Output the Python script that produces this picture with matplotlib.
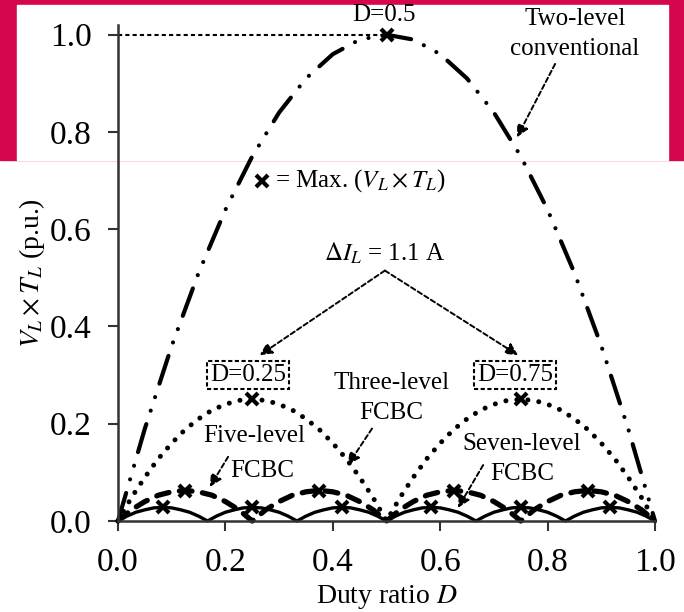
import numpy as np
import matplotlib
matplotlib.use("Agg")
import matplotlib.pyplot as plt
from matplotlib.patches import Rectangle

plt.rcParams["font.family"] = ["Liberation Serif", "DejaVu Serif"]
plt.rcParams["mathtext.fontset"] = "stix"

# sample points along the duty ratio axis
d_coarse = np.round(np.linspace(0, 1, 21), 3)
d_fine = np.round(np.linspace(0, 1, 41), 3)
d_seven = np.round(np.linspace(0, 1, 61), 4)

# V_L x T_L (p.u.)
two_level = [0, 0.19, 0.36, 0.51, 0.64, 0.75, 0.84, 0.91, 0.96, 0.99, 1.0,
             0.99, 0.96, 0.91, 0.84, 0.75, 0.64, 0.51, 0.36, 0.19, 0]
three_level = [0, 0.048, 0.09, 0.128, 0.16, 0.188, 0.21, 0.228, 0.24, 0.248, 0.25,
               0.248, 0.24, 0.228, 0.21, 0.188, 0.16, 0.128, 0.09, 0.048, 0,
               0.048, 0.09, 0.128, 0.16, 0.188, 0.21, 0.228, 0.24, 0.248, 0.25,
               0.248, 0.24, 0.228, 0.21, 0.188, 0.16, 0.128, 0.09, 0.048, 0]
five_level = [0, 0.023, 0.04, 0.053, 0.06, 0.063, 0.06, 0.053, 0.04, 0.023,
              0, 0.023, 0.04, 0.053, 0.06, 0.063, 0.06, 0.053, 0.04, 0.023,
              0, 0.023, 0.04, 0.053, 0.06, 0.063, 0.06, 0.053, 0.04, 0.023,
              0, 0.023, 0.04, 0.053, 0.06, 0.063, 0.06, 0.053, 0.04, 0.023, 0]
seven_level = [0, 0.010, 0.018, 0.023, 0.027, 0.028, 0.027, 0.023, 0.018, 0.010,
               0, 0.010, 0.018, 0.023, 0.027, 0.028, 0.027, 0.023, 0.018, 0.010,
               0, 0.010, 0.018, 0.023, 0.027, 0.028, 0.027, 0.023, 0.018, 0.010,
               0, 0.010, 0.018, 0.023, 0.027, 0.028, 0.027, 0.023, 0.018, 0.010,
               0, 0.010, 0.018, 0.023, 0.027, 0.028, 0.027, 0.023, 0.018, 0.010,
               0, 0.010, 0.018, 0.023, 0.027, 0.028, 0.027, 0.023, 0.018, 0.010, 0]

# maxima marked with x
max_two_d, max_two_v = [0.5], [1.0]
max_three_d, max_three_v = [0.25, 0.75], [0.25, 0.25]
max_five_d = [0.125, 0.375, 0.625, 0.875]
max_five_v = [0.0625] * 4
max_seven_d = [0.083, 0.25, 0.417, 0.583, 0.75, 0.917]
max_seven_v = [0.028] * 6

ticks = [0.0, 0.2, 0.4, 0.6, 0.8, 1.0]
tick_labels = ["0.0", "0.2", "0.4", "0.6", "0.8", "1.0"]

crimson = "#D6064E"

fig = plt.figure(figsize=(6.84, 6.12), dpi=100)
fig.patches.append(Rectangle((0, 1 - 160 / 612), 1, 160 / 612, transform=fig.transFigure,
                             color=crimson, zorder=-10))
fig.patches.append(Rectangle((17 / 684, 1 - 160 / 612), 651 / 684, 155 / 612,
                             transform=fig.transFigure, color="white", zorder=-9))

ax = fig.add_axes([118 / 684, 1 - 521 / 612, 537 / 684, 496 / 612])
ax.patch.set_alpha(0)

ax.plot(d_coarse, two_level, color="black", lw=3.0, dash_capstyle="round",
        linestyle=(0, (7.0, 3.4, 0.01, 3.4, 0.01, 3.4)), clip_on=False)
ax.plot(d_fine, three_level, color="black", lw=3.6, dash_capstyle="round",
        linestyle=(0, (0.01, 2.2)), clip_on=False)
ax.plot(d_fine, five_level, color="black", lw=3.8, dash_capstyle="round",
        linestyle=(0, (2.4, 2.0)), clip_on=False)
ax.plot(d_seven, seven_level, color="black", lw=2.4, clip_on=False)

mk = dict(marker="x", color="black", ms=9, mew=3, ls="none", zorder=5, clip_on=False)
ax.plot(max_two_d, max_two_v, **mk)
ax.plot(max_three_d, max_three_v, **mk)
ax.plot(max_five_d, max_five_v, **mk)
ax.plot(max_seven_d, max_seven_v, **mk)

# dotted guide to the two-level maximum
ax.plot([0, max_two_d[0]], [max_two_v[0], max_two_v[0]], color="black", lw=1.5,
        linestyle=(0, (2, 1.5)))

ax.set_xlim(0, 1)
ax.set_ylim(0, 1.02)
ax.set_xticks(ticks)
ax.set_xticklabels(tick_labels)
ax.set_yticks(ticks)
ax.set_yticklabels(tick_labels)
ax.tick_params(labelsize=24, direction="out", length=7, width=1.5, color="#333333", pad=12)
for side in ["top", "right"]:
    ax.spines[side].set_visible(False)
for side in ["left", "bottom"]:
    ax.spines[side].set_linewidth(1.8)
    ax.spines[side].set_color("#333333")

ax.set_xlabel("Duty ratio $D$", fontsize=20, labelpad=4)
ax.set_ylabel(r"$V_L \times T_L$ (p.u.)", fontsize=20, labelpad=2)

fs = 18
ax.text(0.495, 1.04, "D=0.5", fontsize=fs, ha="center", va="center")
ax.text(0.851, 1.033, "Two-level", fontsize=fs, ha="center", va="center")
ax.text(0.851, 0.971, "conventional", fontsize=fs, ha="center", va="center")

ax.plot([0.268], [0.70], **mk)
ax.text(0.292, 0.70, r"= Max. ($V_L \times T_L$)", fontsize=fs, ha="left", va="center")

ax.text(0.497, 0.55, r"$\Delta I_L$ = 1.1 A", fontsize=fs, ha="center", va="center")

box = dict(boxstyle="square,pad=0.12", fc="white", ec="black", lw=1.5, ls=(0, (2, 1.2)))
ax.text(0.242, 0.301, "D=0.25", fontsize=fs, ha="center", va="center", bbox=box)
ax.text(0.739, 0.301, "D=0.75", fontsize=fs, ha="center", va="center", bbox=box)

ax.text(0.510, 0.283, "Three-level", fontsize=fs, ha="center", va="center")
ax.text(0.508, 0.222, "FCBC", fontsize=fs, ha="center", va="center")
ax.text(0.253, 0.174, "Five-level", fontsize=fs, ha="center", va="center")
ax.text(0.268, 0.103, "FCBC", fontsize=fs, ha="center", va="center")
ax.text(0.752, 0.158, "Seven-level", fontsize=fs, ha="center", va="center")
ax.text(0.752, 0.097, "FCBC", fontsize=fs, ha="center", va="center")

arrow = dict(arrowstyle="-|>", color="black", lw=1.4, linestyle=(0, (2.5, 1.5)),
             mutation_scale=18, shrinkA=0, shrinkB=0)
ax.annotate("", xy=(0.743, 0.789), xytext=(0.814, 0.94), arrowprops=arrow)
ax.annotate("", xy=(0.264, 0.341), xytext=(0.497, 0.515), arrowprops=arrow)
ax.annotate("", xy=(0.745, 0.341), xytext=(0.497, 0.515), arrowprops=arrow)
ax.annotate("", xy=(0.428, 0.115), xytext=(0.473, 0.19), arrowprops=arrow)
ax.annotate("", xy=(0.171, 0.07), xytext=(0.205, 0.132), arrowprops=arrow)
ax.annotate("", xy=(0.633, 0.027), xytext=(0.680, 0.115), arrowprops=arrow)

fig.savefig("out.png", dpi=100)
